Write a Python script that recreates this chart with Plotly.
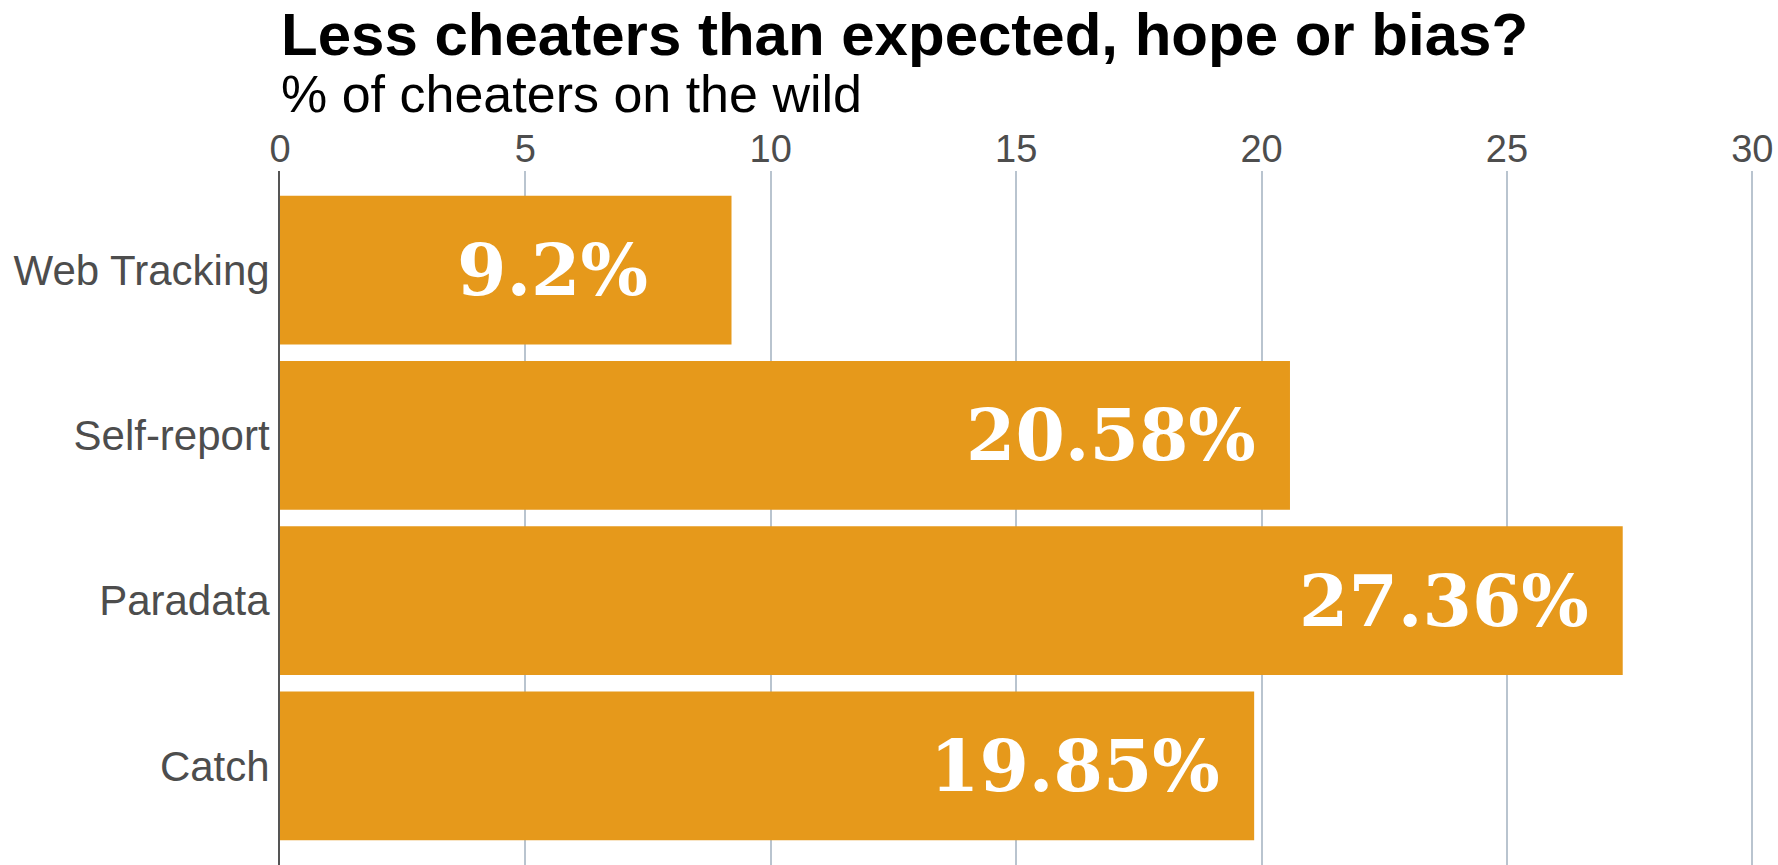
import plotly.graph_objects as go

# Share of cheaters detected by each method (%)
methods = ["Web Tracking", "Self-report", "Paradata", "Catch"]
cheater_pct = [9.2, 20.58, 27.36, 19.85]

x_ticks = [0, 5, 10, 15, 20, 25, 30]

TITLE = "Less cheaters than expected, hope or bias?"
SUBTITLE = "% of cheaters on the wild"

BAR_COLOR = "#E6991B"
GRID_COLOR = "#B9C4CF"
TEXT_GRAY = "#4D4D4D"
LABEL_OFFSET = 3.65  # value labels are centred this far (in %) left of the bar end

fig = go.Figure(
    go.Bar(
        x=cheater_pct,
        y=methods,
        orientation="h",
        marker=dict(color=BAR_COLOR, line=dict(width=0)),
        hoverinfo="skip",
    )
)

# value labels inside the bar ends
for m, v in zip(methods, cheater_pct):
    fig.add_annotation(
        x=v - LABEL_OFFSET,
        y=m,
        xref="x",
        yref="y",
        text=f"{v:g}%",
        showarrow=False,
        xanchor="center",
        yanchor="middle",
        font=dict(family="DejaVu Serif", size=71, color="white", weight="bold"),
    )

# two-line title block (bold headline + subtitle), anchored to the top edge
fig.add_annotation(
    text=(
        f"<span style='font-size:60px'><b>{TITLE}</b></span><br>"
        f"<span style='font-size:52px'>{SUBTITLE}</span>"
    ),
    xref="paper", yref="paper", x=0, y=865 / 694,
    xanchor="left", yanchor="top", align="left",
    showarrow=False, borderpad=0,
    font=dict(family="Liberation Sans, Arial", size=44, color="black"),
)

fig.update_layout(
    width=1778,
    height=865,
    margin=dict(l=280, r=11, t=171, b=0),
    paper_bgcolor="white",
    plot_bgcolor="white",
    bargap=0.1,
    showlegend=False,
    font=dict(family="Liberation Sans, Arial", color=TEXT_GRAY),
    xaxis=dict(
        side="top",
        range=[0, 30.3],
        tickvals=x_ticks,
        showgrid=True,
        gridcolor=GRID_COLOR,
        gridwidth=1.5,
        zeroline=False,
        showline=False,
        ticks="",
        tickfont=dict(size=38, color=TEXT_GRAY),
    ),
    yaxis=dict(
        categoryorder="array",
        categoryarray=methods,
        range=[3.6, -0.6],
        showgrid=False,
        zeroline=False,
        showline=True,
        linecolor="#555555",
        linewidth=2,
        ticks="",
        tickfont=dict(size=42, color=TEXT_GRAY),
    ),
)

fig.write_html("out.html")
